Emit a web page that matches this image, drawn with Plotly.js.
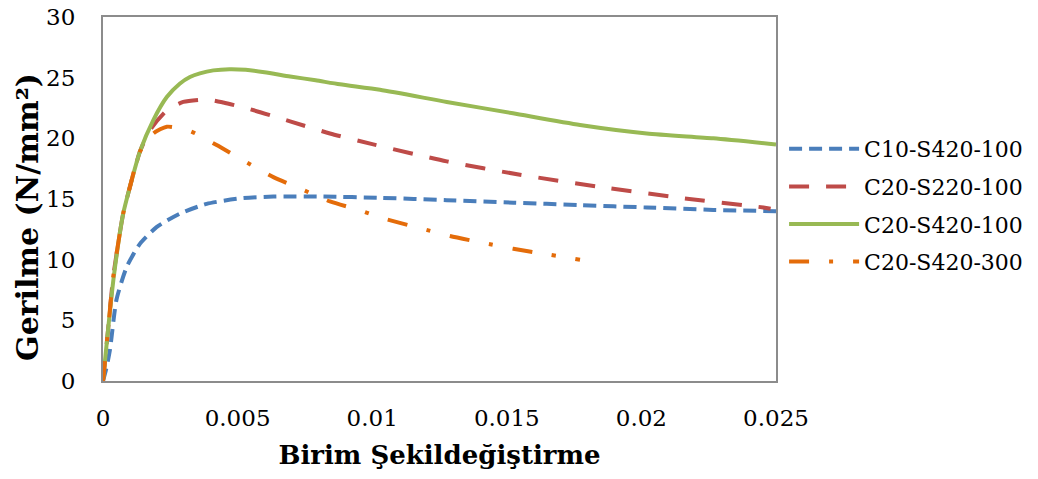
<!DOCTYPE html>
<html>
<head>
<meta charset="utf-8">
<script src="https://cdn.plot.ly/plotly-3.0.1.min.js"></script>
<style>html,body{margin:0;padding:0;background:#fff;}#chart{width:1038px;height:479px;}</style>
</head>
<body>
<div id="chart"></div>
<script>
// Series names
const seriesNames = ["C10-S420-100", "C20-S220-100", "C20-S420-100", "C20-S420-300"];

// C10-S420-100
const blueX = [0, 0.00012, 0.00026, 0.0005, 0.00088, 0.00137, 0.002, 0.00286, 0.00385, 0.00509, 0.00633, 0.00818, 0.01029, 0.01277, 0.01524, 0.01772, 0.0202, 0.02267, 0.025];
const blueY = [0, 1.0, 2.6, 6.7, 9.4, 11.3, 12.7, 13.8, 14.6, 15.05, 15.2, 15.2, 15.1, 14.9, 14.7, 14.5, 14.3, 14.1, 14.0];

// C20-S220-100
const redX = [0, 0.0002, 0.00038, 0.00075, 0.001, 0.00137, 0.00175, 0.00237, 0.00298, 0.00385, 0.00447, 0.00546, 0.00695, 0.00843, 0.01004, 0.01277, 0.01549, 0.01846, 0.02143, 0.02453, 0.0248];
const redY = [0, 4.5, 8.6, 13.8, 16.0, 18.9, 20.7, 22.3, 23.0, 23.2, 22.95, 22.4, 21.4, 20.4, 19.5, 18.1, 17.0, 16.0, 15.1, 14.3, 14.2];

// C20-S420-100
const greenX = [0, 0.0002, 0.0004, 0.00075, 0.001, 0.00137, 0.00187, 0.00237, 0.00285, 0.00323, 0.0036, 0.0041, 0.0047, 0.0053, 0.006, 0.00695, 0.0079, 0.0088, 0.01029, 0.01277, 0.01523, 0.01772, 0.0202, 0.02267, 0.025];
const greenY = [0, 4.5, 8.6, 13.8, 16.0, 18.9, 21.5, 23.4, 24.5, 25.05, 25.35, 25.6, 25.7, 25.65, 25.45, 25.1, 24.78, 24.45, 24.0, 23.0, 22.06, 21.1, 20.4, 20.0, 19.5];

// C20-S420-300
const orangeX = [0, 0.0002, 0.00038, 0.00075, 0.001, 0.00137, 0.00187, 0.00237, 0.00323, 0.00422, 0.00527, 0.00633, 0.00738, 0.00843, 0.00957, 0.01041, 0.01177, 0.01289, 0.01407, 0.01524, 0.01633, 0.01772];
const orangeY = [0, 4.5, 8.6, 13.8, 16.0, 18.9, 20.4, 20.96, 20.6, 19.45, 18.1, 16.8, 15.8, 14.8, 14.05, 13.4, 12.6, 11.95, 11.4, 10.9, 10.5, 10.0];

// Axis ticks
const xTicks = [0, 0.005, 0.01, 0.015, 0.02, 0.025];
const xTickLabels = ["0", "0.005", "0.01", "0.015", "0.02", "0.025"];
const yTicks = [0, 5, 10, 15, 20, 25, 30];

const W = 4;
function mk(x, y, name, color, dash, grp) {
  return {x: x, y: y, name: name, type: 'scatter', mode: 'lines', legendgroup: grp,
    line: {color: color, width: W, dash: dash, shape: 'spline', smoothing: 0.6}};
}
const traces = [
  mk(blueX, blueY, seriesNames[0], '#4a7ebb', '13px,7px', 'a'),
  mk(redX, redY, seriesNames[1], '#be4b48', '20px,17px', 'b'),
  mk(greenX, greenY, seriesNames[2], '#98b954', 'solid', 'c'),
  mk(orangeX, orangeY, seriesNames[3], '#e46c0a', '20px,20px,4px,20px', 'd')
];

const tickFont = {family: 'DejaVu Serif', size: 23, color: '#000'};
const layout = {
  width: 1038, height: 479,
  margin: {l: 103, r: 262, t: 17, b: 98, autoexpand: false},
  paper_bgcolor: '#fff', plot_bgcolor: '#fff',
  showlegend: true,
  legend: {x: 1.012, xanchor: 'left', y: 0.695, yanchor: 'top',
    font: {family: 'DejaVu Serif', size: 22, color: '#000'},
    itemwidth: 70, tracegroupgap: 6, traceorder: 'grouped', bgcolor: 'rgba(0,0,0,0)'},
  xaxis: {range: [0, 0.025], tickvals: xTicks, ticktext: xTickLabels, showgrid: false, zeroline: false,
    showline: true, mirror: true, linecolor: '#8c8c8c', linewidth: 2, ticks: '', tickfont: tickFont,
    ticklabelstandoff: 15,
    title: {text: 'Birim Şekildeğiştirme', font: {family: 'DejaVu Serif', size: 26, color: '#000', weight: 'bold'}, standoff: 16}},
  yaxis: {range: [0, 30], tickvals: yTicks, showgrid: false, zeroline: false,
    showline: true, mirror: true, linecolor: '#8c8c8c', linewidth: 2, ticks: '', tickfont: tickFont,
    ticklabelstandoff: 21},
  annotations: [{text: 'Gerilme (N/mm²)', xref: 'paper', yref: 'paper', x: -0.113, y: 0.4505,
    xanchor: 'center', yanchor: 'middle', textangle: -90, showarrow: false,
    font: {family: 'DejaVu Serif', size: 30, color: '#000', weight: 'bold'}}]
};
Plotly.newPlot('chart', traces, layout, {displayModeBar: false, staticPlot: true});
</script>
</body>
</html>
